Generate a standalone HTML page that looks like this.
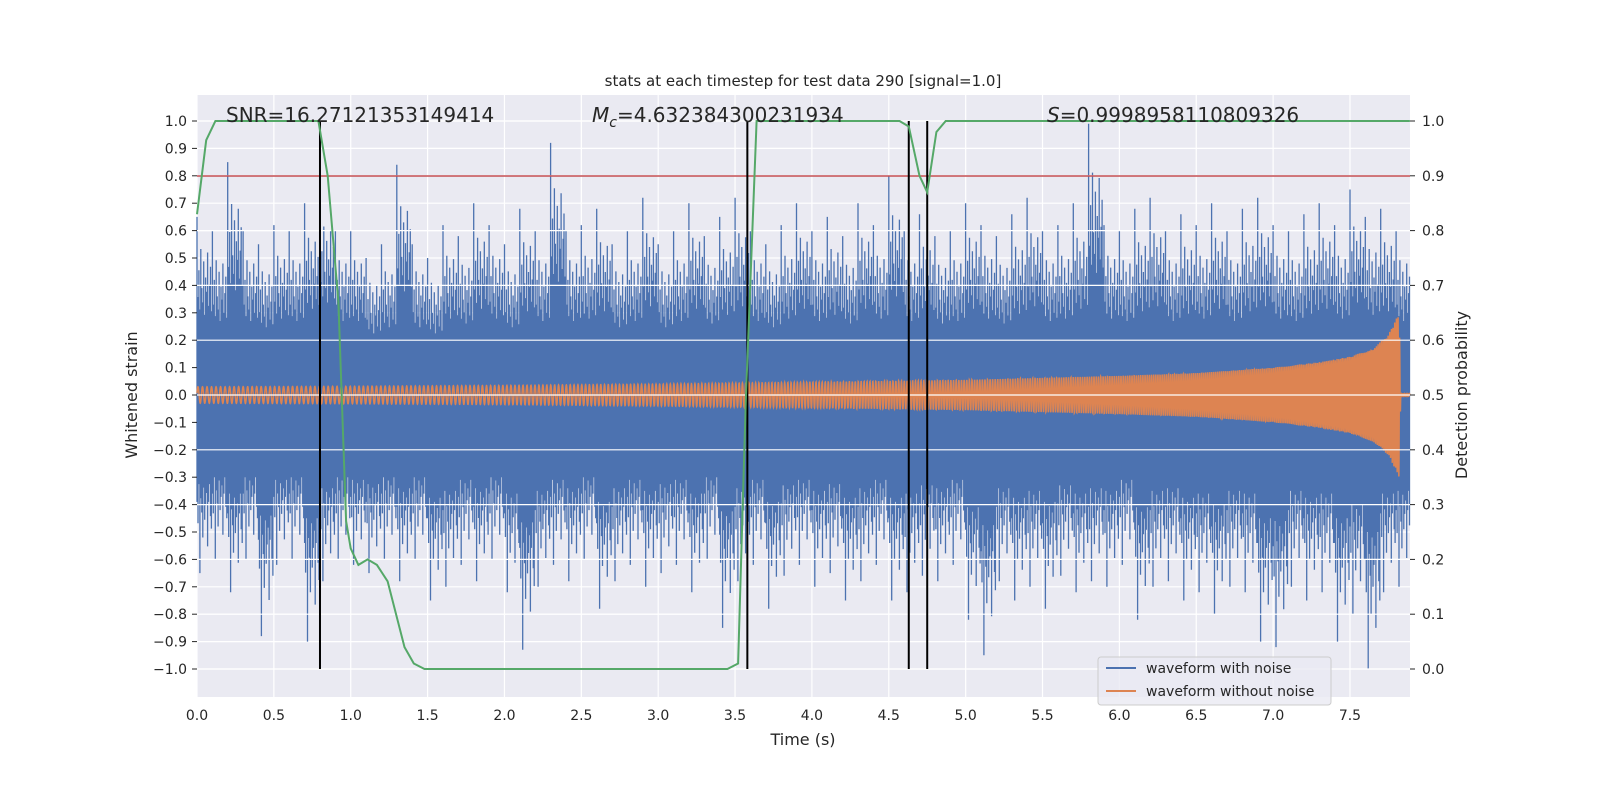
<!DOCTYPE html>
<html><head><meta charset="utf-8"><style>
body{margin:0;background:#fff;}
svg{display:block;font-family:"DejaVu Sans","Liberation Sans",sans-serif;}
</style></head><body>
<svg id="chart" width="1600" height="800">
<rect x="197" y="95" width="1213" height="602" fill="#eaeaf2"/>
<g id="grid"></g>
<g id="blue"></g>
<g id="orange"></g>
<g id="rgrid"></g>
<line x1="197" x2="1410" y1="176" y2="176" stroke="#c44e52" stroke-width="1.5"/>
<g id="vlines"></g>
<path id="green" fill="none" stroke="#55a868" stroke-width="2"/>
<g id="ticks" font-size="14" fill="#262626"></g>
<text x="803" y="86" font-size="15" text-anchor="middle" fill="#262626">stats at each timestep for test data 290 [signal=1.0]</text>
<text x="226" y="122" font-size="20" fill="#262626">SNR=16.27121353149414</text>
<text x="592" y="122" font-size="20" fill="#262626"><tspan font-style="italic">M</tspan><tspan font-size="14" font-style="italic" dy="5">c</tspan><tspan dy="-5">=4.632384300231934</tspan></text>
<text x="1047" y="122" font-size="20" fill="#262626"><tspan font-style="italic">S</tspan>=0.9998958110809326</text>
<text x="803" y="745" font-size="16" text-anchor="middle" fill="#262626">Time (s)</text>
<text transform="translate(137,395) rotate(-90)" font-size="16" text-anchor="middle" fill="#262626">Whitened strain</text>
<text transform="translate(1467,395) rotate(-90)" font-size="16" text-anchor="middle" fill="#262626">Detection probability</text>
<g>
<rect x="1098" y="657" width="233" height="48" rx="3" fill="#eaeaf2" fill-opacity="0.8" stroke="#cccccc"/>
<line x1="1106" x2="1136" y1="668" y2="668" stroke="#4c72b0" stroke-width="2"/>
<text x="1146" y="673" font-size="14" fill="#262626">waveform with noise</text>
<line x1="1106" x2="1136" y1="691" y2="691" stroke="#dd8452" stroke-width="2"/>
<text x="1146" y="696" font-size="14" fill="#262626">waveform without noise</text>
</g>
</svg>
<script>
// data (0.1 s bins)
const upperPeaks=[0.65,0.6,0.85,0.6,0.55,0.62,0.6,0.7,0.75,0.6,0.6,0.5,0.55,0.84,0.55,0.5,0.62,0.58,0.7,0.62,0.55,0.68,0.6,0.92,0.6,0.62,0.68,0.55,0.6,0.72,0.55,0.6,0.7,0.58,0.65,0.72,0.6,0.55,0.62,0.7,0.6,0.65,0.58,0.7,0.62,0.8,0.6,0.66,0.58,0.6,0.7,0.62,0.58,0.66,0.72,0.6,0.62,0.7,0.99,0.62,0.6,0.68,0.72,0.6,0.66,0.62,0.7,0.6,0.68,0.72,0.62,0.6,0.66,0.7,0.62,0.75,0.65,0.68,0.6];
const lowerPeaks=[-0.65,-0.6,-0.72,-0.6,-0.88,-0.62,-0.6,-0.9,-0.68,-0.6,-0.62,-0.65,-0.6,-0.68,-0.6,-0.75,-0.7,-0.62,-0.68,-0.6,-0.72,-0.93,-0.7,-0.62,-0.68,-0.6,-0.78,-0.68,-0.62,-0.7,-0.65,-0.62,-0.72,-0.6,-0.85,-0.68,-0.62,-0.78,-0.66,-0.62,-0.7,-0.65,-0.75,-0.68,-0.62,-0.75,-0.72,-0.66,-0.68,-0.62,-0.82,-0.95,-0.68,-0.75,-0.7,-0.78,-0.66,-0.72,-0.68,-0.7,-0.62,-0.82,-0.7,-0.68,-0.75,-0.72,-0.8,-0.7,-0.72,-0.9,-0.92,-0.7,-0.75,-0.72,-0.9,-0.8,-1.0,-0.72,-0.7];
const cleanTimes=[0,1,2,3,4,5,6,6.5,7,7.3,7.5,7.65,7.75,7.82,7.83,7.89];
const cleanAmp=[0.03,0.032,0.035,0.04,0.047,0.055,0.07,0.08,0.1,0.12,0.14,0.17,0.22,0.3,0.005,0.005];
const probTimes=[0,0.06,0.12,0.79,0.85,0.92,0.97,1.0,1.05,1.11,1.17,1.24,1.35,1.41,1.48,3.45,3.52,3.57,3.64,4.57,4.63,4.7,4.75,4.81,4.87,7.89];
const probValues=[0.83,0.965,1.0,1.0,0.9,0.67,0.27,0.22,0.19,0.2,0.19,0.16,0.04,0.01,0.0,0.0,0.01,0.49,1.0,1.0,0.99,0.9,0.87,0.98,1.0,1.0];
const markerTimes=[0.8,3.58,4.63,4.75];
const xTicks=[0,0.5,1,1.5,2,2.5,3,3.5,4,4.5,5,5.5,6,6.5,7,7.5];
const yTicks=[-1,-0.9,-0.8,-0.7,-0.6,-0.5,-0.4,-0.3,-0.2,-0.1,0,0.1,0.2,0.3,0.4,0.5,0.6,0.7,0.8,0.9,1.0];
const rTicks=[0,0.1,0.2,0.3,0.4,0.5,0.6,0.7,0.8,0.9,1.0];
const X0=197,X1=1410;
const xs=t=>197+t*153.73;
const ys=v=>395-v*274;
const yr=p=>669-p*548;
const NS='http://www.w3.org/2000/svg';
function mk(tag,attrs,parent){const e=document.createElementNS(NS,tag);for(const k in attrs)e.setAttribute(k,attrs[k]);parent.appendChild(e);return e;}
const grid=document.getElementById('grid'),rgrid=document.getElementById('rgrid'),ticks=document.getElementById('ticks');
xTicks.forEach(t=>{const l=mk('line',{x1:xs(t),x2:xs(t),y1:95,y2:697,stroke:'#fff','stroke-width':1.2},grid);

const tx=mk('text',{x:xs(t),y:720,'text-anchor':'middle'},ticks);tx.textContent=t.toFixed(1);
});
yTicks.forEach(v=>{const l=mk('line',{x1:X0,x2:X1,y1:ys(v),y2:ys(v),stroke:'#fff','stroke-width':1.2},grid);

const tk=mk('line',{x1:X0-5,x2:X0,y1:ys(v),y2:ys(v),stroke:'#262626'},ticks);

const tx=mk('text',{x:X0-10,y:ys(v)+5,'text-anchor':'end'},ticks);
tx.textContent=v<0?'\u2212'+Math.abs(v).toFixed(1):v.toFixed(1);
});
rTicks.forEach(p=>{const l=mk('line',{x1:X0,x2:X1,y1:yr(p),y2:yr(p),stroke:'#fff','stroke-width':1.2},rgrid);

const tk=mk('line',{x1:X1,x2:X1+5,y1:yr(p),y2:yr(p),stroke:'#262626'},ticks);

const tx=mk('text',{x:X1+12,y:yr(p)+5},ticks);tx.textContent=p.toFixed(1);
});
// blue noise
const blue=document.getElementById('blue');
const band=mk('rect',{x:X0,y:ys(0.22),width:xs(7.89)-X0,height:ys(-0.3)-ys(0.22),fill:'#4c72b0'},blue);

const varyU=[1,0.55,0.7,0.48,0.82,0.6,0.52,0.75,0.45,0.66,0.58,0.8,0.5,0.62,0.72,0.47];
const varyL=[0.6,0.72,0.5,1,0.58,0.66,0.8,0.52,0.7,0.62,0.55,0.85,0.6,0.5,0.68,0.75];
let d='';
upperPeaks.forEach((u,i)=>{const lo=lowerPeaks[i];
for(let k=0;k<16;k++){const t=i*0.1+k*0.00625;if(t>7.89)break;const x=xs(t).toFixed(1);
d+=`M${x},${ys(u*varyU[k]).toFixed(1)}V${ys(lo*varyL[k]).toFixed(1)}`;}});
const bp=mk('path',{d:d,stroke:'#4c72b0','stroke-width':1.3,fill:'none'},blue);

// orange chirp
function amp(t){for(let i=1;i<cleanTimes.length;i++){if(t<=cleanTimes[i]){const f=(t-cleanTimes[i-1])/(cleanTimes[i]-cleanTimes[i-1]);return cleanAmp[i-1]+f*(cleanAmp[i]-cleanAmp[i-1]);}}return cleanAmp[cleanAmp.length-1];}
let od='',ph=0;const dt=0.001;
for(let t=0;t<=7.89;t+=dt){const f=34+(t/7.83)*(t/7.83)*60;ph+=2*Math.PI*f*dt;const v=amp(t)*Math.sin(ph);od+=(od?'L':'M')+xs(t).toFixed(2)+','+ys(v).toFixed(2);}
const op=mk('path',{d:od,stroke:'#dd8452','stroke-width':1.5,fill:'none'},document.getElementById('orange'));

// markers
const vl=document.getElementById('vlines');
markerTimes.forEach(t=>{const l=mk('line',{x1:xs(t),x2:xs(t),y1:ys(1),y2:ys(-1),stroke:'#000','stroke-width':2},vl);
});
document.getElementById('green').setAttribute('d',probTimes.map((t,i)=>(i?'L':'M')+xs(t).toFixed(1)+','+yr(probValues[i]).toFixed(1)).join(''));
</script>
</body></html>
